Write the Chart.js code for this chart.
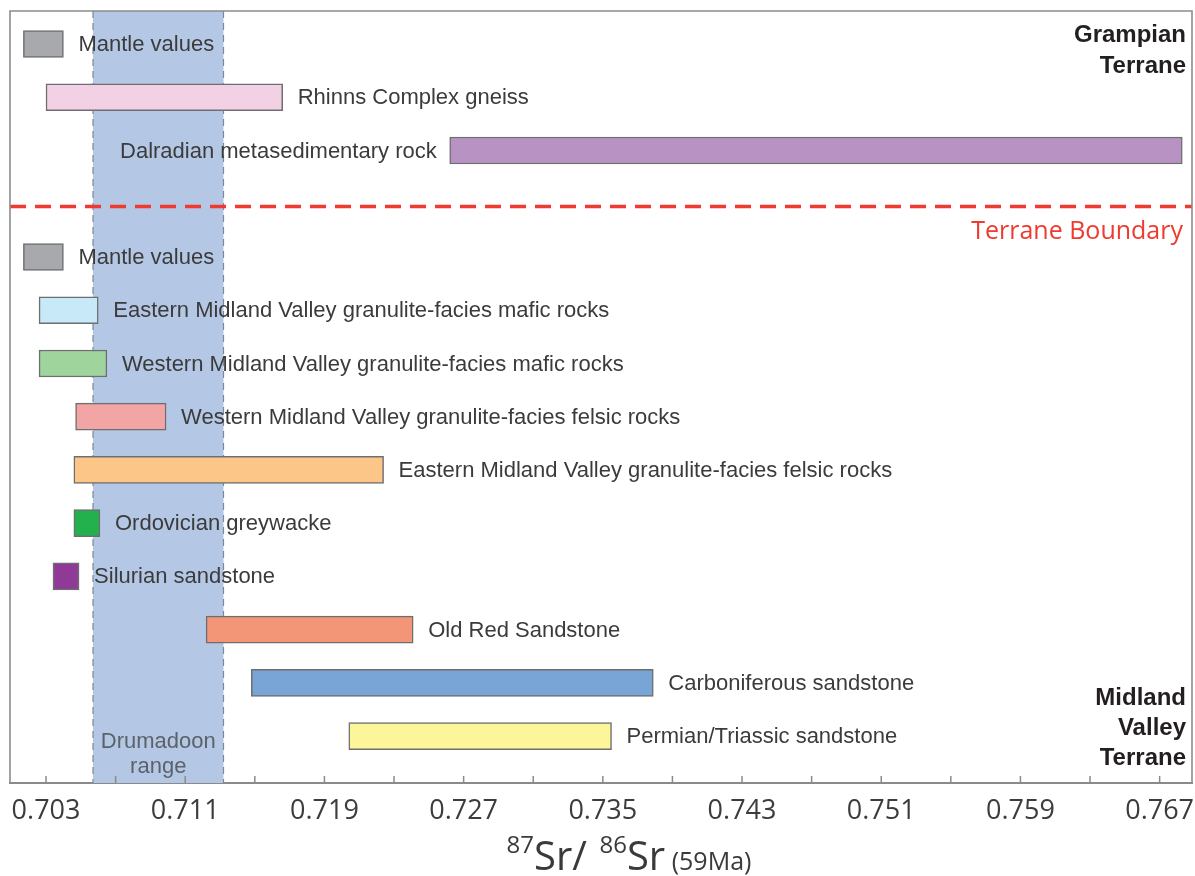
<!DOCTYPE html>
<html>
<head>
<meta charset="utf-8">
<title>87Sr/86Sr ranges of crustal and mantle sources</title>
<script src="https://cdn.jsdelivr.net/npm/chart.js@4.4.1/dist/chart.umd.min.js"></script>
<style>
  html, body { margin: 0; padding: 0; background: #ffffff; }
  #wrap { width: 1195px; height: 876px; }
</style>
</head>
<body>
<div id="wrap"><canvas id="chart" width="1195" height="876"></canvas></div>
<script>
// Source units, one row each (row 3 is left empty for the terrane boundary)
const units = [
  'Mantle values',
  'Rhinns Complex gneiss',
  'Dalradian metasedimentary rock',
  'Mantle values',
  'Eastern Midland Valley granulite-facies mafic rocks',
  'Western Midland Valley granulite-facies mafic rocks',
  'Western Midland Valley granulite-facies felsic rocks',
  'Eastern Midland Valley granulite-facies felsic rocks',
  'Ordovician greywacke',
  'Silurian sandstone',
  'Old Red Sandstone',
  'Carboniferous sandstone',
  'Permian/Triassic sandstone'
];
const rowPositions = [0, 1, 2, 4, 5, 6, 7, 8, 9, 10, 11, 12, 13];

// 87Sr/86Sr (at 59 Ma) ranges: lower and upper bounds
const srLow  = [0.7017, 0.7030, 0.7262, 0.7017, 0.7026, 0.7026, 0.7047, 0.7046, 0.7046, 0.7034, 0.7122, 0.7148, 0.7204];
const srHigh = [0.7040, 0.7166, 0.7683, 0.7040, 0.7060, 0.7065, 0.7099, 0.7224, 0.7061, 0.7049, 0.7241, 0.7379, 0.7355];

// Fill colour of each unit's bar
const unitColors = [
  '#a7a9ac', '#f3d1e5', '#b892c2', '#a7a9ac', '#c8e9f8', '#9fd49d',
  '#f2a5a4', '#fcc688', '#22b14c', '#8e3a96', '#f39678', '#78a4d6', '#fdf59a'
];
// Side of the bar on which the unit name is written
const labelSide = ['right', 'right', 'left', 'right', 'right', 'right', 'right', 'right', 'right', 'right', 'right', 'right', 'right'];

// Range of the Drumadoon intrusion
const drumadoonRange = [0.7057, 0.7132];
// Terrane boundary sits between the two groups of rows
const boundaryRow = 3.05;

// Axis ticks (every 0.004) and their labels (every 0.008)
const tickValues = [0.703, 0.707, 0.711, 0.715, 0.719, 0.723, 0.727, 0.731, 0.735,
                    0.739, 0.743, 0.747, 0.751, 0.755, 0.759, 0.763, 0.767];
const tickLabels = ['0.703', '', '0.711', '', '0.719', '', '0.727', '', '0.735',
                    '', '0.743', '', '0.751', '', '0.759', '', '0.767'];

const LABEL_FONT = '22px "Liberation Sans", Arial, sans-serif';
const BOLD_FONT = 'bold 24px "Liberation Sans", Arial, sans-serif';
const AXIS_FONT = '"Open Sans", "DejaVu Sans", sans-serif';

const barData = rowPositions.map((r, i) => ({ y: r, x: [srLow[i], srHigh[i]] }));

const decorations = {
  id: 'decorations',
  beforeDatasetsDraw(chart) {
    const { ctx, chartArea: a, scales: { x } } = chart;
    const x0 = x.getPixelForValue(drumadoonRange[0]);
    const x1 = x.getPixelForValue(drumadoonRange[1]);
    ctx.save();
    // Drumadoon band
    ctx.fillStyle = '#b4c8e6';
    ctx.fillRect(x0, a.top, x1 - x0, a.bottom - a.top);
    ctx.strokeStyle = '#7e8898';
    ctx.lineWidth = 1.2;
    ctx.setLineDash([7, 5]);
    [x0, x1].forEach(px => {
      ctx.beginPath();
      ctx.moveTo(px, a.top);
      ctx.lineTo(px, a.bottom);
      ctx.stroke();
    });
    ctx.setLineDash([]);
    ctx.fillStyle = '#5d626a';
    ctx.font = LABEL_FONT;
    ctx.textAlign = 'center';
    ctx.textBaseline = 'alphabetic';
    ctx.fillText('Drumadoon', (x0 + x1) / 2, a.bottom - 35);
    ctx.fillText('range', (x0 + x1) / 2, a.bottom - 10);
    ctx.restore();
  },
  afterDatasetsDraw(chart) {
    const { ctx, chartArea: a, scales: { x, y } } = chart;
    const meta = chart.getDatasetMeta(0);
    ctx.save();

    // Unit names beside their bars
    ctx.font = LABEL_FONT;
    ctx.fillStyle = '#3b3b3b';
    ctx.textBaseline = 'middle';
    meta.data.forEach((bar, i) => {
      const p = bar.getProps(['x', 'y', 'base'], true);
      const lo = Math.min(p.x, p.base), hi = Math.max(p.x, p.base);
      if (labelSide[i] === 'left') {
        ctx.textAlign = 'right';
        ctx.fillText(units[i], lo - 13, p.y + 1);
      } else {
        ctx.textAlign = 'left';
        ctx.fillText(units[i], hi + 15, p.y + 1);
      }
    });

    // Terrane boundary
    const by = y.getPixelForValue(boundaryRow);
    ctx.strokeStyle = '#ee3a2f';
    ctx.lineWidth = 3.5;
    ctx.setLineDash([16, 9]);
    ctx.beginPath();
    ctx.moveTo(a.left, by);
    ctx.lineTo(a.right, by);
    ctx.stroke();
    ctx.setLineDash([]);
    ctx.fillStyle = '#ee3a2f';
    ctx.font = '25px ' + AXIS_FONT;
    ctx.textAlign = 'right';
    ctx.textBaseline = 'alphabetic';
    ctx.fillText('Terrane Boundary', a.right - 9, by + 33);

    // Terrane names
    ctx.fillStyle = '#231f20';
    ctx.font = BOLD_FONT;
    ctx.fillText('Grampian', a.right - 6, a.top + 31);
    ctx.fillText('Terrane', a.right - 6, a.top + 62);
    ctx.fillText('Midland', a.right - 6, a.bottom - 78);
    ctx.fillText('Valley', a.right - 6, a.bottom - 48);
    ctx.fillText('Terrane', a.right - 6, a.bottom - 18);

    // Inward tick marks on the bottom axis
    ctx.strokeStyle = '#8a8a8a';
    ctx.lineWidth = 1.5;
    x.ticks.forEach(t => {
      const px = x.getPixelForValue(t.value);
      ctx.beginPath();
      ctx.moveTo(px, a.bottom);
      ctx.lineTo(px, a.bottom - 7);
      ctx.stroke();
    });

    // Plot frame
    ctx.strokeStyle = '#8c8c8c';
    ctx.lineWidth = 1.6;
    ctx.beginPath();
    ctx.moveTo(a.left, a.bottom);
    ctx.lineTo(a.left, a.top);
    ctx.lineTo(a.right, a.top);
    ctx.lineTo(a.right, a.bottom);
    ctx.stroke();

    // Axis title: 87Sr/86Sr (59Ma)
    const parts = [
      { t: '87', size: 24, rise: 17 },
      { t: 'Sr/', size: 40, rise: 0 },
      { t: '  ', size: 24, rise: 0 },
      { t: '86', size: 24, rise: 17 },
      { t: 'Sr', size: 40, rise: 0 },
      { t: ' (59Ma)', size: 25, rise: 0 }
    ];
    let total = 0;
    parts.forEach(pt => { ctx.font = pt.size + 'px ' + AXIS_FONT; pt.w = ctx.measureText(pt.t).width; total += pt.w; });
    let cx = 629 - total / 2;
    const baseY = 870;
    ctx.fillStyle = '#3a3a3a';
    ctx.textAlign = 'left';
    parts.forEach(pt => {
      ctx.font = pt.size + 'px ' + AXIS_FONT;
      ctx.fillText(pt.t, cx, baseY - pt.rise);
      cx += pt.w;
    });
    ctx.restore();
  }
};

new Chart(document.getElementById('chart'), {
  type: 'bar',
  data: {
    datasets: [{
      data: barData,
      backgroundColor: unitColors,
      borderColor: '#6e6e70',
      borderWidth: 1.5,
      borderSkipped: false,
      barThickness: 27
    }]
  },
  options: {
    indexAxis: 'y',
    responsive: false,
    animation: false,
    layout: { padding: { left: 10, right: 3, top: 11, bottom: 0 } },
    plugins: { legend: { display: false }, tooltip: { enabled: false } },
    scales: {
      x: {
        type: 'linear',
        position: 'bottom',
        min: 0.70093,
        max: 0.76886,
        offset: false,
        afterBuildTicks: s => { s.ticks = tickValues.map(v => ({ value: v })); },
        afterFit: s => { s.height = 93; s.paddingLeft = 0; s.paddingRight = 0; },
        grid: { drawOnChartArea: false, drawTicks: false },
        border: { color: '#8a8a8a', width: 2 },
        ticks: {
          autoSkip: false,
          maxRotation: 0,
          padding: 12,
          color: '#3c3c3c',
          font: { family: AXIS_FONT, size: 27 },
          callback: (v, i) => tickLabels[i]
        }
      },
      y: {
        type: 'linear',
        display: false,
        reverse: true,
        offset: false,
        min: -0.62,
        max: 13.88
      }
    }
  },
  plugins: [decorations]
});
</script>
</body>
</html>
